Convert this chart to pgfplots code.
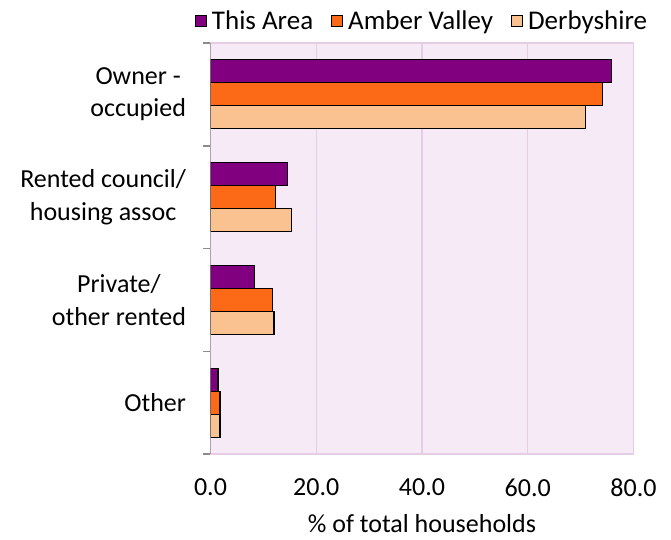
\documentclass[border=0pt]{standalone}
\usepackage{pgfplots}
\pgfplotsset{compat=1.18}
\usepackage{fontspec}
\setmainfont{Carlito}
\definecolor{cPurple}{HTML}{800080}
\definecolor{cOrange}{HTML}{FC6A17}
\definecolor{cPeach}{HTML}{FAC191}
\definecolor{bgPink}{HTML}{F6EAF6}
\definecolor{gridPink}{HTML}{E5CDE5}
\definecolor{axGray}{HTML}{8C8C8C}
\pgfplotsset{mylegend/.style={legend image code/.code={\draw[##1,draw=black,line width=1pt] (0pt,-5.5pt) rectangle (11pt,5.5pt);}}}
\begin{document}
\begin{tikzpicture}
\path[use as bounding box] (-210.5pt,-85pt) rectangle (460.5pt,454pt);
\begin{axis}[
  at={(0pt,0pt)}, anchor=south west,
  scale only axis, width=423pt, height=411pt,
  xbar, bar width=23pt,
  xmin=0, xmax=80, ymin=-0.5, ymax=3.5,
  xtick={0,20,40,60,80},
  /pgf/number format/.cd, fixed, fixed zerofill, precision=1, assume math mode=true, /pgfplots/.cd,
  xmajorgrids, major grid style={gridPink, line width=1.2pt},
  axis background/.style={fill=bgPink},
  axis line style={gridPink, line width=1.2pt},
  ytick={0,1,2,3},
  yticklabels={Other, {Private/\\other rented}, {Rented council/\\housing assoc}, {Owner -\\occupied}},
  minor ytick={-0.5,0.5,1.5,2.5,3.5},
  ytick pos=left, xtick pos=bottom,
  major tick length=0pt, minor tick length=7pt, tick align=outside,
  minor tick style={axGray, line width=1.5pt},
  yticklabel style={align=center, font=\fontsize{26}{32.5}\selectfont, xshift=-21pt},
  xticklabel style={font=\fontsize{26}{30}\selectfont, yshift=-21pt},
  xlabel={\% of total households},
  xlabel style={font=\fontsize{26}{30}\selectfont, inner sep=0pt, at={(axis description cs:0.5,0)}, anchor=base, yshift=-78pt},
  legend columns=3,
  legend style={draw=none, fill=none, at={(0.5,1)}, anchor=south, yshift=8pt,
    font=\fontsize{27}{30}\selectfont, column sep=3pt,
    /tikz/every even column/.append style={column sep=16pt}},
]
\addplot[mylegend, fill=cPurple, draw=black, line width=1.2pt, bar shift=23pt] coordinates {(75.8,3) (14.5,2) (8.3,1) (1.4,0)};
\addplot[mylegend, fill=cOrange, draw=black, line width=1.2pt, bar shift=0pt] coordinates {(74.2,3) (12.3,2) (11.8,1) (1.8,0)};
\addplot[mylegend, fill=cPeach, draw=black, line width=1.2pt, bar shift=-23pt] coordinates {(70.9,3) (15.3,2) (12.0,1) (1.8,0)};
\legend{This Area, Amber Valley, Derbyshire}
\draw[axGray, line width=1.5pt] (rel axis cs:0,0) -- (rel axis cs:0,1);
\end{axis}
\end{tikzpicture}
\end{document}
